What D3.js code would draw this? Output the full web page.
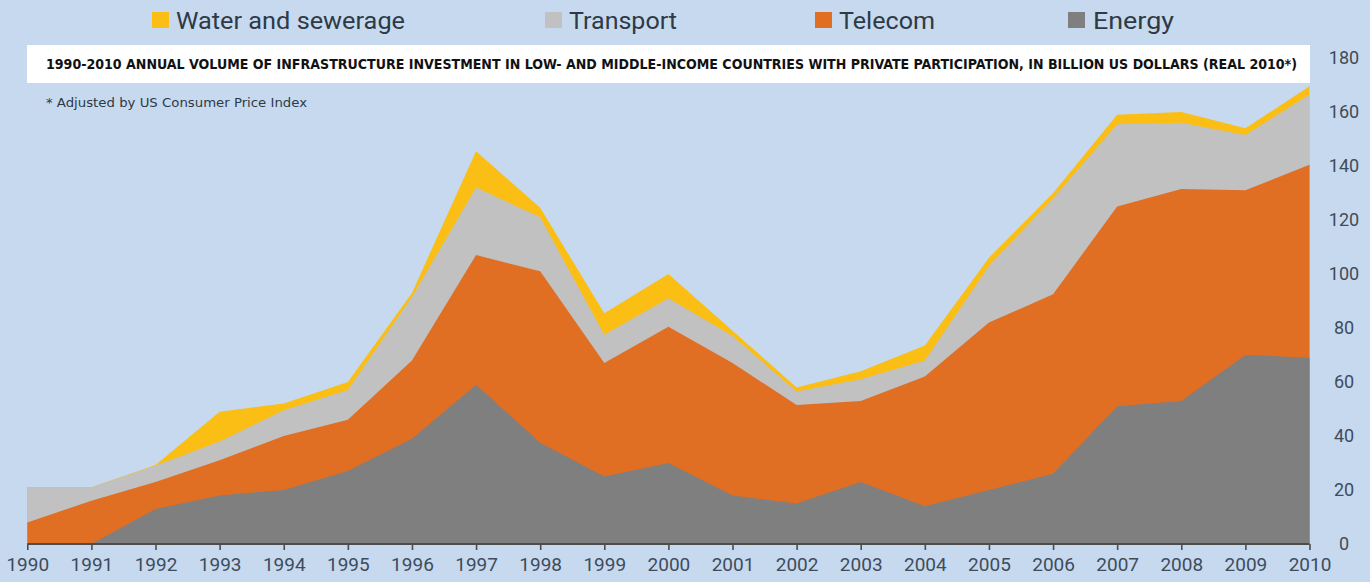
<!DOCTYPE html>
<html>
<head>
<meta charset="utf-8">
<script src="https://cdn.jsdelivr.net/npm/d3@7"></script>
<style>
  html, body { margin: 0; padding: 0; background: #c6d9ef; }
  svg { display: block; }
</style>
</head>
<body>
<svg id="chart" width="1370" height="582"></svg>
<script>
// ---- data (billion US dollars, real 2010) ----
const years = [1990,1991,1992,1993,1994,1995,1996,1997,1998,1999,2000,2001,2002,2003,2004,2005,2006,2007,2008,2009,2010];
const energy    = [0, 0, 13, 18, 20, 27, 39, 59, 37.5, 25, 30, 18, 15, 23, 14, 20, 26, 51, 53, 70, 69];
const telecom   = [8, 16, 10, 13, 20, 19, 29, 48, 63.5, 42, 50.5, 49, 36.5, 30, 48, 62, 66.5, 74, 78.5, 61, 71.5];
const transport = [13, 5, 6, 7, 9.5, 11, 23.5, 25, 20, 10.5, 10.5, 10, 5, 8, 6, 21, 35.5, 30.5, 24.5, 20.5, 26];
const water     = [0, 0, 0.3, 11, 2.5, 3, 1.5, 13.5, 3.5, 8, 9, 2, 1.5, 3, 5.5, 3, 2, 3.5, 4, 2.5, 3];
const yTicks = [0, 20, 40, 60, 80, 100, 120, 140, 160, 180];
const seriesKeys = ["Energy", "Telecom", "Transport", "Water and sewerage"];
const legendOrder = ["Water and sewerage", "Transport", "Telecom", "Energy"];
const colors = {"Energy": "#7f7f7f", "Telecom": "#e06e23", "Transport": "#c1c1c1", "Water and sewerage": "#fbbe14"};
const title = "1990-2010 ANNUAL VOLUME OF INFRASTRUCTURE INVESTMENT IN LOW- AND MIDDLE-INCOME COUNTRIES WITH PRIVATE PARTICIPATION, IN BILLION US DOLLARS (REAL 2010*)";
const footnote = "* Adjusted by US Consumer Price Index";

const rows = years.map((y, i) => ({
  year: y,
  "Energy": energy[i],
  "Telecom": telecom[i],
  "Transport": transport[i],
  "Water and sewerage": water[i]
}));

const svg = d3.select("#chart");
const x = d3.scaleLinear().domain([1990, 2010]).range([27.3, 1309.5]);
const y = d3.scaleLinear().domain([0, 180]).range([544, 58]);

const stacked = d3.stack().keys(seriesKeys)(rows);

// Draw top layers first (each from the baseline) so lower layers cover seams
svg.append("g").selectAll("path")
  .data(stacked.slice().reverse())
  .join("path")
  .attr("d", d => {
    const full = d3.area().x(p => x(p.data.year)).y0(y(0)).y1(p => y(p[1]));
    return full(d);
  })
  .attr("fill", d => colors[d.key]);

// x axis
const xAxis = d3.axisBottom(x)
  .tickValues(years)
  .tickFormat(d3.format("d"))
  .tickSize(6)
  .tickPadding(6);
const gx = svg.append("g").attr("transform", "translate(0,544)").call(xAxis);
gx.select(".domain").attr("stroke", "#4d4d4d").attr("stroke-width", 2.2).attr("d", `M${x(1990)},0H${x(2010)}`);
gx.selectAll(".tick line").attr("stroke", "#4d4d4d").attr("stroke-width", 1.6);
gx.selectAll(".tick text")
  .attr("fill", "#3f4c5a")
  .attr("font-family", "Roboto, 'Liberation Sans', sans-serif")
  .attr("font-size", 19)
  .attr("y", 14)
  .attr("dy", "0.71em");

// y axis labels on right
const yAxis = d3.axisRight(y).tickValues(yTicks).tickSize(0).tickPadding(0);
const gy = svg.append("g").attr("transform", "translate(1344,0)").call(yAxis);
gy.select(".domain").remove();
gy.selectAll(".tick text")
  .attr("fill", "#3f4c5a")
  .attr("font-family", "Roboto, 'Liberation Sans', sans-serif")
  .attr("font-size", 18)
  .attr("text-anchor", "middle")
  .attr("x", 0);

// title box
svg.append("rect").attr("x", 27).attr("y", 45).attr("width", 1283).attr("height", 38).attr("fill", "#ffffff");
svg.append("text")
  .attr("x", 46).attr("y", 69)
  .attr("font-family", "'DejaVu Sans Condensed', 'DejaVu Sans', sans-serif")
  .attr("font-weight", "bold")
  .attr("font-size", 13.5)
  .attr("fill", "#111")
  .attr("textLength", 1251)
  .attr("lengthAdjust", "spacingAndGlyphs")
  .text(title);

// footnote
svg.append("text")
  .attr("x", 46).attr("y", 107)
  .attr("font-family", "'DejaVu Sans Condensed', 'DejaVu Sans', sans-serif")
  .attr("font-size", 13)
  .attr("fill", "#2e3a46")
  .attr("textLength", 261)
  .attr("lengthAdjust", "spacingAndGlyphs")
  .text(footnote);

// legend
const legendPos = [
  {sq: 152, tx: 176, w: 229},
  {sq: 545, tx: 569, w: 108},
  {sq: 815, tx: 839, w: 96},
  {sq: 1068, tx: 1093, w: 81}
];
const lg = svg.append("g");
legendOrder.forEach((k, i) => {
  const p = legendPos[i];
  lg.append("rect").attr("x", p.sq).attr("y", 12).attr("width", 17).attr("height", 16).attr("fill", colors[k]);
  lg.append("text")
    .attr("x", p.tx).attr("y", 29)
    .attr("font-family", "Roboto, 'Liberation Sans', sans-serif")
    .attr("font-size", 24)
    .attr("fill", "#2e3a46")
    .attr("textLength", p.w)
    .attr("lengthAdjust", "spacingAndGlyphs")
    .text(k);
});
</script>
</body>
</html>
